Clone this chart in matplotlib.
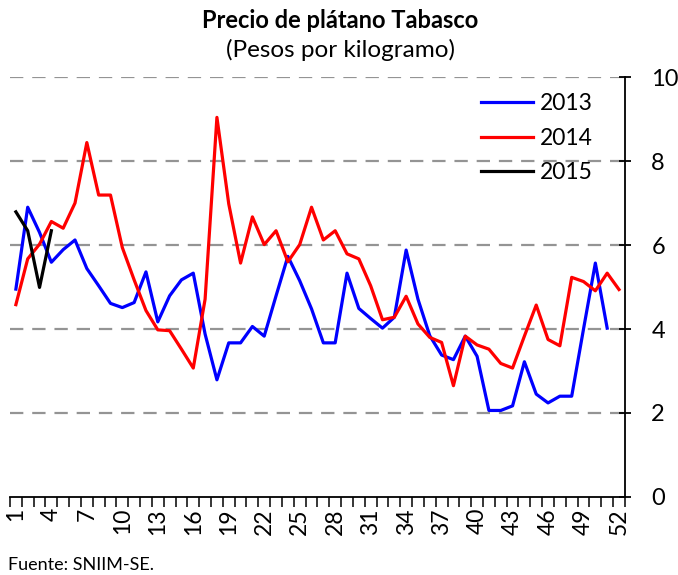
import numpy as np
import matplotlib.pyplot as plt

plt.rcParams['font.family'] = ['Lato', 'DejaVu Sans']

semanas = list(range(1, 53))
etiquetas = [str(s) for s in range(1, 53, 3)]

p2013 = [4.95, 6.9, 6.3, 5.59, 5.89, 6.12, 5.44, 5.03, 4.61, 4.51, 4.63, 5.36, 4.17,
         4.79, 5.17, 5.33, 3.88, 2.79, 3.67, 3.67, 4.06, 3.83, 4.79, 5.73, 5.15, 4.48,
         3.67, 3.67, 5.33, 4.49, 4.25, 4.02, 4.28, 5.88, 4.71, 3.84, 3.38, 3.27, 3.83,
         3.35, 2.06, 2.06, 2.17, 3.22, 2.45, 2.24, 2.4, 2.4, 4.0, 5.57, 4.02]
p2014 = [4.58, 5.67, 6.02, 6.56, 6.4, 7.0, 8.44, 7.19, 7.19, 5.94, 5.17, 4.44, 3.98,
         3.96, 3.52, 3.07, 4.71, 9.04, 6.98, 5.57, 6.67, 6.01, 6.34, 5.6, 6.01, 6.9,
         6.12, 6.34, 5.79, 5.67, 5.03, 4.22, 4.28, 4.78, 4.12, 3.8, 3.68, 2.65, 3.83,
         3.62, 3.52, 3.18, 3.07, 3.83, 4.57, 3.75, 3.6, 5.23, 5.13, 4.91, 5.33, 4.94]
p2015 = [6.79, 6.34, 4.99, 6.34]

fig = plt.figure(figsize=(6.78, 5.75), dpi=100)
ax = fig.add_axes([0.0147, 0.1357, 0.907, 0.7303])

ax.plot(semanas[:len(p2013)], p2013, color='#0000ff', lw=2.3, label='2013')
ax.plot(semanas[:len(p2014)], p2014, color='#ff0000', lw=2.3, label='2014')
ax.plot(semanas[:len(p2015)], p2015, color='black', lw=2.3, label='2015')

ax.set_xlim(0.5, 52.5)
ax.set_ylim(0, 10)

# grilla punteada
for v in [2, 4, 6, 8, 10]:
    ax.axhline(v, color='#949494', lw=1.6, ls=(0, (6, 4)), zorder=0)

ax.spines['left'].set_visible(False)
ax.spines['top'].set_visible(False)
ax.spines['right'].set_linewidth(1.3)
ax.spines['bottom'].set_linewidth(1.3)

ax.yaxis.tick_right()
ax.set_yticks([0, 2, 4, 6, 8, 10])
ax.tick_params(axis='y', direction='inout', length=8, width=1.3, labelsize=17, pad=15)

ax.set_xticks(range(1, 53, 3))
ax.set_xticklabels(etiquetas, rotation=90)
ax.set_xticks(np.arange(0.5, 53, 1), minor=True)
ax.tick_params(axis='x', which='major', length=0, labelsize=16.5, pad=8)
ax.tick_params(axis='x', which='minor', direction='out', length=7, width=1.1)

ax.legend(loc='upper right', bbox_to_anchor=(0.962, 0.983), borderaxespad=0,
          frameon=False, fontsize=16.5,
          handlelength=2.27, handletextpad=0.3, labelspacing=0.59)

fig.text(0.5015, 0.965, 'Precio de plátano Tabasco', ha='center', va='center',
         fontsize=17, fontweight='bold')
fig.text(0.5015, 0.913, '(Pesos por kilogramo)', ha='center', va='center', fontsize=17.5)
fig.text(0.012, 0.017, 'Fuente: SNIIM-SE.', ha='left', va='center', fontsize=13)

fig.savefig('out.png', dpi=100)
